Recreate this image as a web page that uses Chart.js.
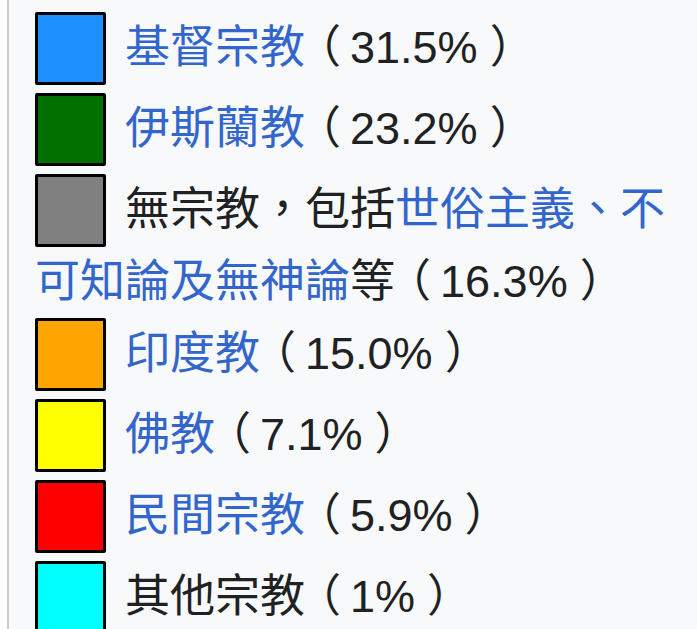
<!DOCTYPE html>
<html>
<head>
<meta charset="utf-8">
<script src="https://cdn.jsdelivr.net/npm/chart.js@4/dist/chart.umd.min.js"></script>
<style>
  html, body { margin: 0; padding: 0; background: #fff; }
  body { width: 697px; overflow: hidden; }
  #wrap {
    margin-left: 7px;
    border-left: 2px solid #c8ccd1;
    background: #f8f9fa;
    padding-top: 8px;
    min-height: 640px;
  }
  .row {
    position: relative;
    box-sizing: border-box;
    min-height: 81px;
    padding: 4px 0 0 26px;
    text-indent: 90px;
    font: 45px/72px "Liberation Sans", "Noto Sans CJK TC", sans-serif;
    color: #202122;
  }
  .row .box {
    position: absolute;
    left: 26px;
    top: 4px;
    width: 65px;
    height: 67px;
    border: 3px solid #000;
    border-radius: 2px;
  }
  .row a { color: #3366cc; text-decoration: none; }
  .row .pa { position: relative; left: -9px; }
  .row .pc { position: relative; left: 12px; }
  #pieBox { width: 400px; height: 400px; }
</style>
</head>
<body>
<div id="wrap">
  <div id="legend"></div>
  <div id="pieBox"><canvas id="chartReligion"></canvas></div>
</div>
<script>
// Datos
const etiquetas = [
  '基督宗教',
  '伊斯蘭教',
  '無宗教，包括世俗主義、不可知論及無神論等',
  '印度教',
  '佛教',
  '民間宗教',
  '其他宗教'
];
const porcentajes = [31.5, 23.2, 16.3, 15.0, 7.1, 5.9, 1];
const textoPorcentaje = ['31.5%', '23.2%', '16.3%', '15.0%', '7.1%', '5.9%', '1%'];
const colores = ['#1e90ff', '#007000', '#808080', '#ffa500', '#ffff00', '#ff0000', '#00ffff'];
// partes de cada etiqueta que son enlaces
const enlaces = [
  ['基督宗教'],
  ['伊斯蘭教'],
  ['世俗主義、不可知論及無神論'],
  ['印度教'],
  ['佛教'],
  ['民間宗教'],
  []
];

function marcarEnlaces(texto, partes) {
  let html = texto;
  partes.forEach(p => {
    html = html.replace(p, '<a>' + p + '</a>');
  });
  return html;
}

// Leyenda HTML
const htmlLegend = {
  id: 'htmlLegend',
  afterUpdate(chart) {
    const cont = document.getElementById('legend');
    const items = chart.options.plugins.legend.labels.generateLabels(chart);
    cont.innerHTML = items.map(item => `
      <div class="row"><span class="box" style="background:${item.fillStyle}"></span>${marcarEnlaces(item.text, enlaces[item.index])}<span class="pa">（</span>${textoPorcentaje[item.index]}<span class="pc">）</span></div>
    `).join('');
    cont.querySelectorAll('.row').forEach(r => {
      if (r.offsetHeight > 100) r.style.marginBottom = '-4px';
    });
  }
};

new Chart(document.getElementById('chartReligion'), {
  type: 'pie',
  data: {
    labels: etiquetas,
    datasets: [{
      data: porcentajes,
      backgroundColor: colores,
      borderColor: '#000',
      borderWidth: 1
    }]
  },
  options: {
    responsive: true,
    maintainAspectRatio: false,
    animation: false,
    plugins: {
      legend: { display: false },
      tooltip: { enabled: false }
    }
  },
  plugins: [htmlLegend]
});
</script>
</body>
</html>
